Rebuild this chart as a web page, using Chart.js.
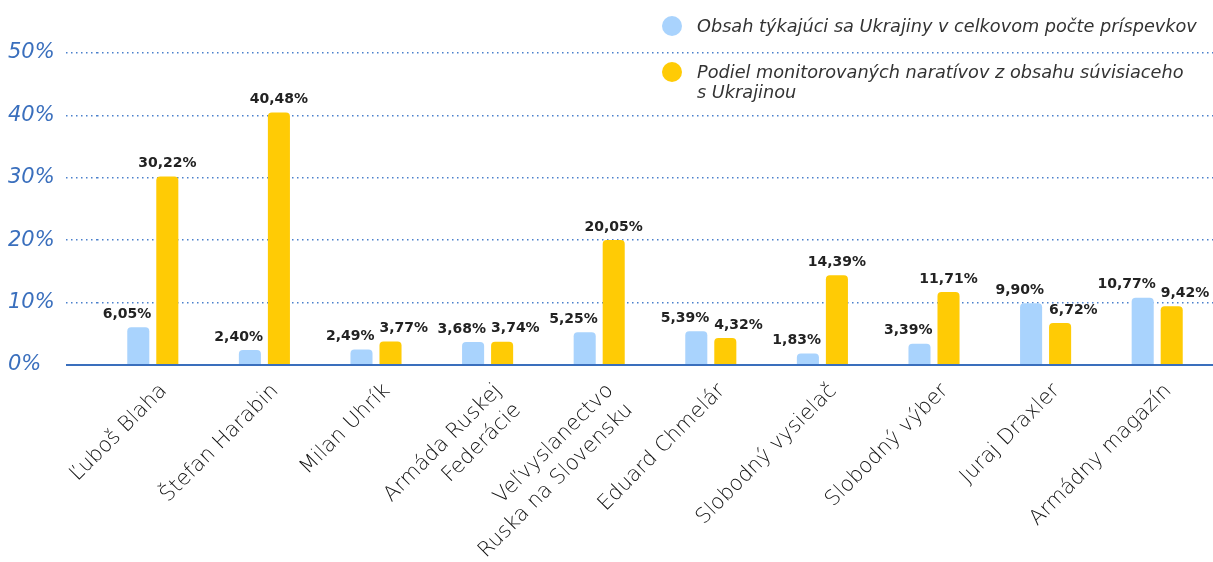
<!DOCTYPE html>
<html>
<head>
<meta charset="utf-8">
<script src="https://cdn.jsdelivr.net/npm/chart.js@4/dist/chart.umd.min.js"></script>
<style>
  html, body { margin: 0; padding: 0; background: #fff; }
  #wrap { position: relative; width: 1213px; height: 562px; }
  #legend { position: absolute; left: 662px; top: 16px; font: italic 17.7px "DejaVu Sans", sans-serif; color: #333; }
  #legend .item { position: relative; padding-left: 35px; line-height: 20px; margin-bottom: 26px; white-space: nowrap; }
  #legend .dot { position: absolute; left: 0; top: 0; width: 20px; height: 20px; border-radius: 50%; }
</style>
</head>
<body>
<div id="wrap">
  <canvas id="chart-bar" width="1213" height="562"></canvas>
  <div id="legend"></div>
</div>
<script>
var categories = [
    "Ľuboš Blaha",
    "Štefan Harabin",
    "Milan Uhrík",
    ["Armáda Ruskej", "Federácie"],
    ["Veľvyslanectvo", "Ruska na Slovensku"],
    "Eduard Chmelár",
    "Slobodný vysielač",
    "Slobodný výber",
    "Juraj Draxler",
    "Armádny magazín"
];
var ukraineShare = [6.05, 2.40, 2.49, 3.68, 5.25, 5.39, 1.83, 3.39, 9.90, 10.77];
var narrativeShare = [30.22, 40.48, 3.77, 3.74, 20.05, 4.32, 14.39, 11.71, 6.72, 9.42];
var yTicks = [0, 10, 20, 30, 40, 50];

var seriesNames = [
    ["Obsah týkajúci sa Ukrajiny v celkovom počte príspevkov"],
    ["Podiel monitorovaných naratívov z obsahu súvisiaceho", "s Ukrajinou"]
];
var blue = "#a9d3fd";
var yellow = "#ffcb05";
var axisBlue = "#3a6fbd";
var dotBlue = "#4a80cc";

// legend (html, sits over the top right of the plot)
var legendEl = document.getElementById("legend");
[blue, yellow].forEach(function (c, i) {
    var item = document.createElement("div");
    item.className = "item";
    item.innerHTML = '<span class="dot" style="background:' + c + '"></span>' + seriesNames[i].join("<br>");
    legendEl.appendChild(item);
});

function fmt(v) {
    return v.toFixed(2).replace(".", ",") + "%";
}

// value labels above the bars
var valueLabels = {
    id: "valueLabels",
    afterDatasetsDraw: function (chart) {
        var ctx = chart.ctx;
        var m0 = chart.getDatasetMeta(0);
        var m1 = chart.getDatasetMeta(1);
        ctx.save();
        ctx.font = "bold 14px 'DejaVu Sans', sans-serif";
        ctx.fillStyle = "#222";
        ctx.textBaseline = "bottom";
        for (var j = 0; j < categories.length; j++) {
            var b = m0.data[j];
            ctx.textAlign = "right";
            ctx.fillText(fmt(ukraineShare[j]), b.x + b.width / 2 + 2, b.y - 6);

            var y = m1.data[j];
            if (narrativeShare[j] - ukraineShare[j] > 5) {
                ctx.textAlign = "center";
                ctx.fillText(fmt(narrativeShare[j]), y.x, y.y - 6);
            } else {
                ctx.textAlign = "left";
                ctx.fillText(fmt(narrativeShare[j]), y.x - y.width / 2, y.y - 6);
            }
        }
        ctx.restore();
    }
};

var dash = function (c) { return c.tick && c.tick.value === 0 ? [] : [1.5, 3.5]; };
var lw = function (c) { return c.tick && c.tick.value === 0 ? 2 : 1.6; };
var lc = function (c) { return c.tick && c.tick.value === 0 ? axisBlue : dotBlue; };

var ctx1 = document.getElementById("chart-bar").getContext("2d");
var myChart = new Chart(ctx1, {
    type: "bar",
    data: {
        labels: categories,
        datasets: [
            {
                label: seriesNames[0].join(" "),
                data: ukraineShare,
                backgroundColor: blue,
                borderRadius: { topLeft: 4, topRight: 4 },
                borderSkipped: "start",
                categoryPercentage: 0.52,
                barPercentage: 0.76
            },
            {
                label: seriesNames[1].join(" "),
                data: narrativeShare,
                backgroundColor: yellow,
                borderRadius: { topLeft: 4, topRight: 4 },
                borderSkipped: "start",
                categoryPercentage: 0.52,
                barPercentage: 0.76
            }
        ]
    },
    options: {
        responsive: false,
        animation: false,
        layout: { padding: { top: 53, left: 8, right: 0, bottom: 0 } },
        plugins: {
            legend: { display: false },
            tooltip: { enabled: false }
        },
        scales: {
            x: {
                grid: { display: false },
                border: { display: false },
                afterFit: function (scale) { scale.height = 197; },
                ticks: {
                    autoSkip: false,
                    minRotation: 45,
                    maxRotation: 45,
                    padding: 5,
                    labelOffset: 11,
                    color: "#111",
                    font: { family: "'DejaVu Sans', sans-serif", size: 21, weight: 300, lineHeight: 1.3 }
                }
            },
            y: {
                min: 0,
                max: 50,
                afterFit: function (scale) { scale.width = 89; },
                afterBuildTicks: function (scale) {
                    scale.ticks = yTicks.map(function (v) { return { value: v }; });
                },
                border: { display: false, dash: dash },
                grid: {
                    color: lc,
                    lineWidth: lw,
                    drawTicks: true,
                    tickLength: 31,
                    tickColor: lc,
                    tickWidth: lw,
                    tickBorderDash: dash
                },
                ticks: {
                    crossAlign: "far",
                    padding: 8,
                    color: axisBlue,
                    font: { family: "'DejaVu Sans', sans-serif", size: 21, style: "italic" },
                    callback: function (v) { return v + "%"; }
                }
            }
        }
    },
    plugins: [valueLabels]
});
</script>
</body>
</html>
